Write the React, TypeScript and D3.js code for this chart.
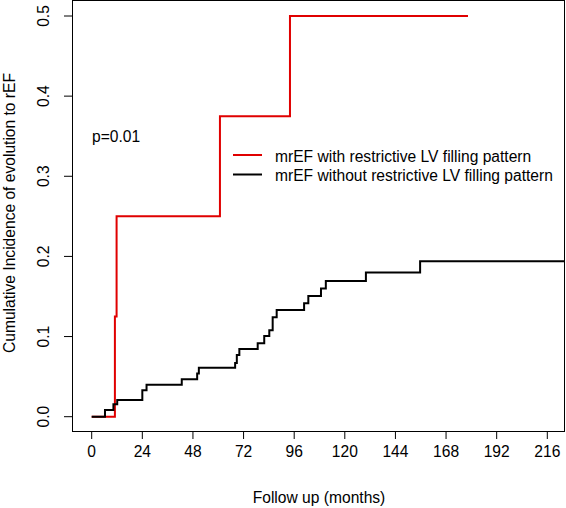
import React from "react";
import * as d3 from "d3";

const xTicks = [0, 24, 48, 72, 96, 120, 144, 168, 192, 216];
const yTicks = [0, 0.1, 0.2, 0.3, 0.4, 0.5];
const yTickLabels = ["0.0", "0.1", "0.2", "0.3", "0.4", "0.5"];

const redTimes = [0, 11, 11.8, 60.8, 94, 178.4];
const redValues = [0, 0.125, 0.25, 0.375, 0.5, 0.5];

const blackTimes = [0, 6.3, 10.3, 12.1, 24, 26, 42.7, 50, 50.8, 68, 68.8, 70, 78.7, 81.8, 84.2, 85.8, 87.7, 100.7, 102.7, 108.7, 111, 130, 155.7, 224.4];
const blackValues = [0, 0.0084, 0.0155, 0.0208, 0.033, 0.04, 0.0467, 0.054, 0.061, 0.067, 0.077, 0.0845, 0.0916, 0.1007, 0.108, 0.124, 0.133, 0.1416, 0.1507, 0.16, 0.1694, 0.18, 0.194, 0.194];

const seriesNames = ["mrEF with restrictive LV filling pattern", "mrEF without restrictive LV filling pattern"];
const seriesColors = ["#e00000", "#000000"];

const W = 566, H = 508;
const L = 72, R = 565, T = 0, B = 431;

export default function App() {
  const x = d3.scaleLinear().domain([0, 216]).range([91.7, 547.3]);
  const y = d3.scaleLinear().domain([0, 0.5]).range([416.7, 16]);
  const line = d3
    .line<[number, number]>()
    .x((d) => x(d[0]))
    .y((d) => y(d[1]))
    .curve(d3.curveStepAfter);
  const red: [number, number][] = redTimes.map((t, i) => [t, redValues[i]]);
  const black: [number, number][] = blackTimes.map((t, i) => [t, blackValues[i]]);
  const font = "'Liberation Sans', Arial, sans-serif";
  const fs = 15.6;
  return (
    <svg
      width={W}
      height={H}
      style={{ position: "absolute", left: 0, top: 0, background: "#fff" }}
      fontFamily={font}
    >
      <defs>
        <clipPath id="plotclip">
          <rect x={L} y={T} width={R - L} height={B - T} />
        </clipPath>
      </defs>
      <g clipPath="url(#plotclip)">
        <path d={line(red) || ""} fill="none" stroke={seriesColors[0]} strokeWidth={2} />
        <path d={line(black) || ""} fill="none" stroke={seriesColors[1]} strokeWidth={2} />
      </g>
      <rect x={L + 0.5} y={T + 0.5} width={R - L - 1} height={B - T} fill="none" stroke="#000" strokeWidth={1} />
      {xTicks.map((t) => (
        <g key={"x" + t}>
          <line x1={x(t)} x2={x(t)} y1={B} y2={B + 8} stroke="#000" />
          <text x={x(t)} y={457} textAnchor="middle" fontSize={fs}>
            {t}
          </text>
        </g>
      ))}
      {yTicks.map((v, i) => (
        <g key={"y" + v}>
          <line x1={L - 8} x2={L} y1={y(v)} y2={y(v)} stroke="#000" />
          <text
            transform={`translate(49,${y(v)}) rotate(-90)`}
            textAnchor="middle"
            fontSize={fs}
          >
            {yTickLabels[i]}
          </text>
        </g>
      ))}
      <text x={319} y={503} textAnchor="middle" fontSize={fs}>
        Follow up (months)
      </text>
      <text transform={`translate(15,213) rotate(-90)`} textAnchor="middle" fontSize={fs}>
        Cumulative Incidence of evolution to rEF
      </text>
      <text x={92} y={142} fontSize={fs}>p=0.01</text>
      {seriesNames.map((n, i) => (
        <g key={n}>
          <line x1={233} x2={262} y1={155 + i * 19.5} y2={155 + i * 19.5} stroke={seriesColors[i]} strokeWidth={2} />
          <text x={275} y={161.5 + i * 19.5} fontSize={fs}>
            {n}
          </text>
        </g>
      ))}
    </svg>
  );
}
